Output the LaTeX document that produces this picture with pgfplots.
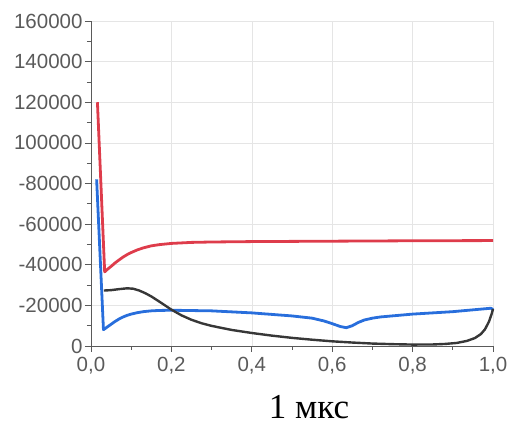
\documentclass[border=0pt]{standalone}
\usepackage{fontspec}
\setmainfont{Liberation Sans}
\newfontfamily\serifcyr{Liberation Serif}
\usepackage{pgfplots}
\pgfplotsset{compat=1.18}
\definecolor{cred}{RGB}{222,60,75}
\definecolor{cblue}{RGB}{40,110,220}
\definecolor{cblack}{RGB}{55,55,55}
\definecolor{tickgray}{RGB}{90,90,90}
\begin{document}
\begin{tikzpicture}
\begin{axis}[
  name=ax,
  scale only axis,
  width=402pt, height=325pt,
  xmin=0, xmax=1, ymin=0, ymax=160000,
  axis lines=left,
  axis line style={-, draw=tickgray, line width=0.8pt},
  tick align=outside,
  major tick length=6pt, minor tick length=4pt,
  tick style={draw=tickgray, line width=0.7pt},
  xtick={0,0.2,0.4,0.6,0.8,1.0},
  xticklabels={{0,0},{0,2},{0,4},{0,6},{0,8},{1,0}},
  minor x tick num=1,
  ytick={0,20000,40000,60000,80000,100000,120000,140000,160000},
  yticklabels={0,-20000,-40000,-60000,-80000,100000,120000,140000,160000},
  minor y tick num=1,
  scaled y ticks=false,
  grid=major,
  major grid style={draw=black!10, line width=0.6pt},
  ticklabel style={font=\fontsize{20.5}{24}\selectfont, text=tickgray},
  xticklabel style={yshift=-2pt},
  yticklabel style={xshift=1pt},
  clip=false,
]
\addplot[cblue, line width=2.8pt, line join=round] coordinates {
(0.014,82000) (0.031,8000) (0.04,9300) (0.05,10700) (0.06,12100) (0.07,13300)
(0.08,14300) (0.09,15100) (0.1,15700) (0.115,16400) (0.13,16900) (0.15,17300)
(0.17,17500) (0.2,17600) (0.3,17300) (0.4,16300) (0.5,14800) (0.55,13700)
(0.58,12300) (0.6,11000) (0.62,9600) (0.635,9000) (0.65,10000) (0.665,11600)
(0.68,12800) (0.7,13700) (0.72,14300) (0.8,15700)
(0.9,16900) (0.995,18600) (1.0,17800)};
\addplot[cblack, line width=2.4pt, line join=round] coordinates {
(0.032,27300) (0.05,27500) (0.07,28000) (0.09,28400) (0.105,28200) (0.12,27300)
(0.135,26000) (0.15,24400) (0.175,21200) (0.2,17900) (0.225,15100) (0.25,12900)
(0.275,11200) (0.3,9900) (0.35,7900) (0.4,6400) (0.45,5100) (0.5,4000)
(0.55,3100) (0.6,2300) (0.65,1700) (0.7,1200) (0.75,900) (0.8,700) (0.85,750)
(0.88,1000) (0.91,1500) (0.935,2500) (0.955,3900) (0.97,5900) (0.98,8200)
(0.99,12000) (0.997,16000) (1.0,18200)};
\addplot[cred, line width=2.8pt, line join=round] coordinates {
(0.016,120000) (0.034,36500) (0.04,37600) (0.05,39200) (0.06,40900) (0.07,42400)
(0.08,43800) (0.09,45000) (0.1,46000) (0.115,47300) (0.13,48300) (0.15,49300)
(0.17,49900) (0.2,50500) (0.25,51000) (0.3,51200) (0.4,51400) (0.6,51600)
(0.8,51800) (1.0,51900)};
\end{axis}
\node[font=\serifcyr\fontsize{35}{40}\selectfont, anchor=base] at ([xshift=218pt,yshift=-73pt]ax.south west) {1 мкс};
\path ([xshift=-91pt,yshift=-81pt]ax.south west) rectangle ([xshift=18pt,yshift=21pt]ax.north east);
\end{tikzpicture}
\end{document}
